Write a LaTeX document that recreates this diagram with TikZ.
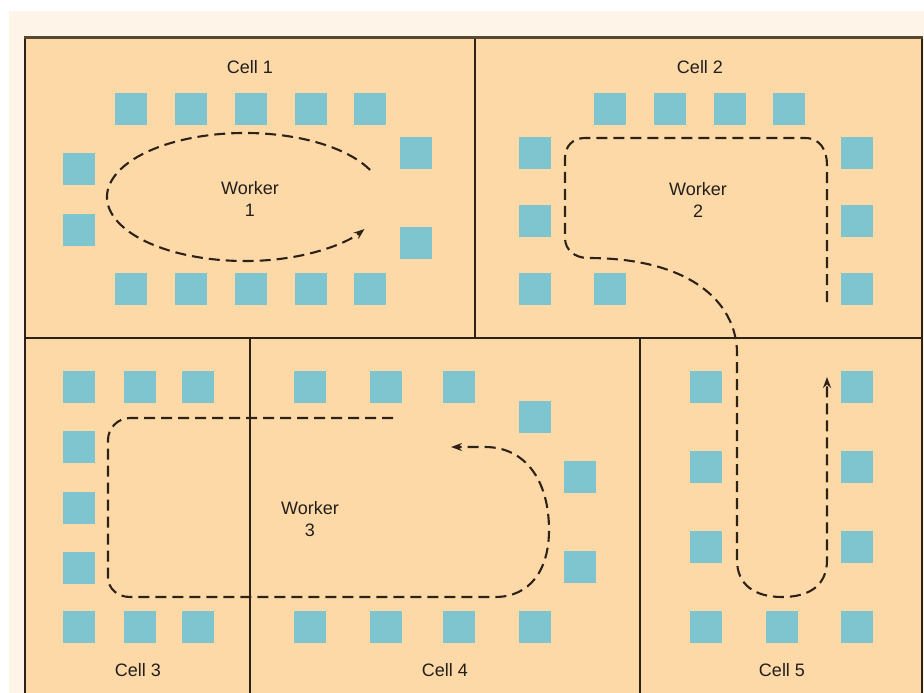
\documentclass[tikz,border=0pt]{standalone}
\usepackage{fontspec}
\setmainfont{Liberation Sans}
\usetikzlibrary{arrows.meta,calc}
\definecolor{peach}{HTML}{FDD9A8}
\definecolor{mach}{HTML}{7EC5CF}
\definecolor{cream}{HTML}{FEF5E8}
\definecolor{ink}{HTML}{2E2218}
\definecolor{txt}{HTML}{221E1A}
\tikzset{
  machine/.style={fill=mach, draw=none, minimum width=32pt, minimum height=32pt, inner sep=0pt},
  divider/.style={draw=ink, line width=1.5pt},
  border/.style={draw=ink!80!peach, line width=3pt},
  walkpath/.style={draw=ink, line width=2.1pt, dash pattern=on 11pt off 6pt},
  tip/.style={-{Stealth[length=11pt,width=8pt]}},
  label/.style={text=txt, font=\fontsize{18}{21.5}\selectfont, align=center, inner sep=0pt}
}
\begin{document}
\begin{tikzpicture}[x=1pt,y=-1pt]
\useasboundingbox (0,0) rectangle (924,693);
\fill[white] (0,0) rectangle (924,693);
\fill[cream] (9,11) rectangle (924,693);
\fill[peach] (25,38) rectangle (922,693);
% dividers
\draw[divider] (25,338) -- (922,338);
\draw[divider] (475,38) -- (475,338);
\draw[divider] (250,338) -- (250,693);
\draw[divider] (640,338) -- (640,693);
\draw[divider] (25,38) -- (25,693);
\draw[divider] (922,38) -- (922,693);
\draw[border] (24,38) -- (923,38);
% Cell 1 machines
\foreach \x [count=\i] in {131,191,251,311,370} {
  \node[machine] (c1t\i) at (\x,109) {};
  \node[machine] (c1b\i) at (\x,289) {};
}
\node[machine] (c1l1) at (79,169) {};
\node[machine] (c1l2) at (79,230) {};
\node[machine] (c1r1) at (416,153) {};
\node[machine] (c1r2) at (416,243) {};
% Cell 2 machines
\foreach \x [count=\i] in {610,670,730,789} {
  \node[machine] (c2t\i) at (\x,109) {};
}
\foreach \y [count=\i] in {153,221,289} {
  \node[machine] (c2l\i) at (535,\y) {};
  \node[machine] (c2r\i) at (857,\y) {};
}
\node[machine] (c2b2) at (610,289) {};
% Cell 3 machines
\foreach \x [count=\i] in {79,140,198} {
  \node[machine] (c3t\i) at (\x,387) {};
  \node[machine] (c3b\i) at (\x,627) {};
}
\foreach \y [count=\i] in {447,508,568} {
  \node[machine] (c3l\i) at (79,\y) {};
}
% Cell 4 machines
\foreach \x [count=\i] in {310,386,459} {
  \node[machine] (c4t\i) at (\x,387) {};
}
\foreach \x [count=\i] in {310,386,459,535} {
  \node[machine] (c4b\i) at (\x,627) {};
}
\node[machine] (c4r1) at (535,417) {};
\node[machine] (c4r2) at (580,477) {};
\node[machine] (c4r3) at (580,567) {};
% Cell 5 machines
\foreach \y [count=\i] in {387,467,547,627} {
  \node[machine] (c5l\i) at (706,\y) {};
  \node[machine] (c5r\i) at (857,\y) {};
}
\node[machine] (c5b2) at (782,627) {};
% labels
\node[label] (cell1) at (250,67) {Cell 1};
\node[label] (cell2) at (700,67) {Cell 2};
\node[label] (cell3) at (138,670) {Cell 3};
\node[label] (cell4) at (445,670) {Cell 4};
\node[label] (cell5) at (782,670) {Cell 5};
\node[label] (w1) at (250,199) {Worker\\1};
\node[label] (w2) at (698,200) {Worker\\2};
\node[label] (w3) at (310,519) {Worker\\3};
% Worker 1 loop
\coordinate (w1c) at (245,197);
\draw[walkpath, tip] ($(w1c)+(-25:138 and 64)$) arc[start angle=-25, end angle=-330, x radius=138, y radius=64];
% Worker 2 path
\coordinate (w2s) at (827,302);
\coordinate (w2e) at (827,377);
\draw[walkpath, tip] (w2s) -- (827,165) .. controls (827,150) and (820,138) .. (805,138)
  -- (585,138) .. controls (573,138) and (565,146) .. (565,158)
  -- (565,238) .. controls (565,250) and (575,258) .. (588,258)
  .. controls (690,258) and (736,302) .. (737,352)
  -- (737,560) .. controls (737,585) and (755,597) .. (782,597)
  .. controls (810,597) and (827,585) .. (827,560) -- (w2e);
% Worker 3 path
\coordinate (w3s) at (393,418);
\coordinate (w3e) at (451,447);
\draw[walkpath, tip] (w3s) -- (130,418) .. controls (118,418) and (108,428) .. (108,440)
  -- (108,577) .. controls (108,589) and (118,597) .. (130,597)
  -- (495,597) .. controls (530,597) and (549,570) .. (549,530)
  .. controls (549,480) and (525,447) .. (485,447) -- (w3e);
\end{tikzpicture}
\end{document}
